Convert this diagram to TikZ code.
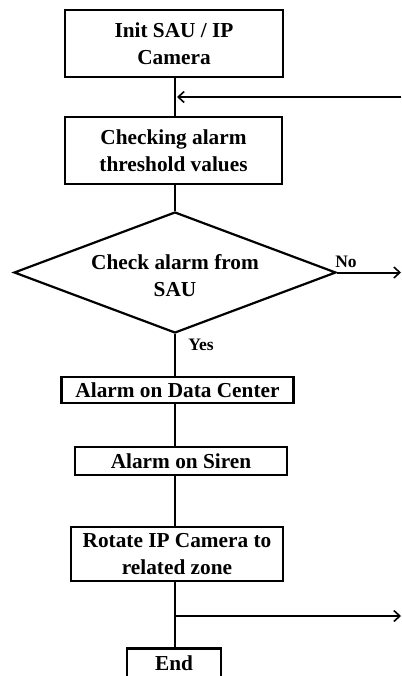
\documentclass[tikz,border=0pt]{standalone}
\usepackage{fontspec}
\setmainfont{Liberation Serif}
\usetikzlibrary{arrows.meta,shapes.geometric}
\begin{document}
\begin{tikzpicture}[x=1pt,y=-1pt,
  every node/.style={font=\fontsize{21.3}{27}\selectfont\bfseries},
  box/.style={draw,line width=2.2pt,inner sep=0pt,align=center},
  lbl/.style={font=\fontsize{17.5}{18}\selectfont\bfseries,inner sep=0pt},
  conn/.style={line width=2pt},
  arr/.style={line width=2pt,-{Straight Barb[length=6pt,width=11pt,line width=1.6pt]}}]
\useasboundingbox (0,0) rectangle (401,676);
\coordinate (sp) at (175,0);
\node[box,minimum width=218pt,minimum height=67pt] (b1) at (174,43.5) {Init SAU / IP\\Camera};
\node[box,minimum width=217pt,minimum height=67pt] (b2) at (173.5,150.5) {Checking alarm\\threshold values};
\node[diamond,draw,line width=2.2pt,minimum width=322pt,minimum height=121pt,inner sep=0pt] (d) at (175,272.5) {};
\node[align=center,inner sep=0pt] (dt) at (175,276) {Check alarm from\\SAU};
\node[box,minimum width=232pt,minimum height=26pt] (b3) at (177.5,390) {Alarm on Data Center};
\node[box,minimum width=212pt,minimum height=28pt] (b4) at (181,461) {Alarm on Siren};
\node[box,minimum width=212pt,minimum height=54pt] (b5) at (177,554) {Rotate IP Camera to\\related zone};
\node[box,minimum width=94pt,minimum height=30pt] (b6) at (174,663.5) {End};
\node[lbl] (no) at (346,262) {No};
\node[lbl] (yes) at (201,345) {Yes};
\coordinate (in1) at (401,97);
\coordinate (out1) at (401,272.5);
\coordinate (out2) at (401,616);
\coordinate (j1) at (175,97);
\coordinate (j2) at (175,616);
\draw[conn] (b1.south -| sp) -- (b2.north -| sp);
\draw[conn] (b2.south -| sp) -- (d.north);
\draw[conn] (d.south) -- (b3.north -| sp);
\draw[conn] (b3.south -| sp) -- (b4.north -| sp);
\draw[conn] (b4.south -| sp) -- (b5.north -| sp);
\draw[conn] (b5.south -| sp) -- (b6.north -| sp);
\draw[arr] (in1) -- ([xshift=2pt]j1);
\draw[arr] (d.east) -- (out1);
\draw[arr] (j2) -- (out2);
\end{tikzpicture}
\end{document}
